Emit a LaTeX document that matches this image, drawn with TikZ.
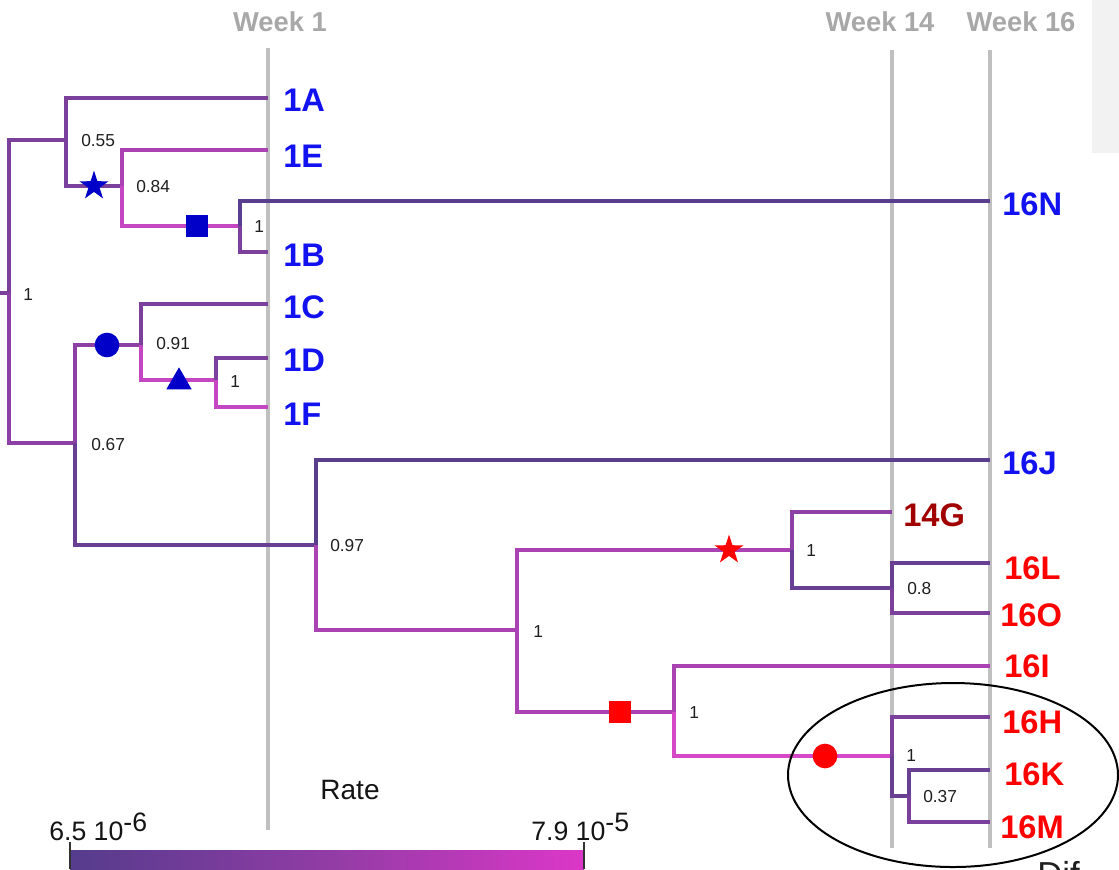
\documentclass[tikz,border=0pt]{standalone}
\usepackage{fontspec}
\setmainfont{Liberation Sans}
\usetikzlibrary{shapes.geometric}
\definecolor{lgray}{RGB}{192,192,192}
\definecolor{wkgray}{RGB}{168,168,168}
\definecolor{tipblue}{RGB}{18,18,240}
\definecolor{tipred}{RGB}{255,0,0}
\definecolor{tipdred}{RGB}{160,0,0}
\definecolor{mkblue}{RGB}{0,0,200}
\definecolor{mkred}{RGB}{255,0,0}
\definecolor{cdark}{RGB}{88,62,140}
\definecolor{cdp}{RGB}{105,63,148}
\definecolor{cpur}{RGB}{122,64,155}
\definecolor{cmid}{RGB}{140,64,165}
\definecolor{cmag}{RGB}{170,66,180}
\definecolor{cpink}{RGB}{196,70,195}
\definecolor{cbright}{RGB}{215,72,200}
\definecolor{cbl}{RGB}{85,60,140}
\definecolor{cbm}{RGB}{145,60,165}
\definecolor{cbr}{RGB}{220,55,200}
\definecolor{scan}{RGB}{242,242,242}
\tikzset{
  br/.style={line width=3pt, line join=miter, draw=#1},
  gline/.style={line width=3pt, draw=lgray},
  tip/.style={font=\fontsize{24.5}{24.5}\selectfont\bfseries, anchor=west, inner sep=0pt, text=#1},
  sup/.style={font=\fontsize{13}{13}\selectfont, anchor=west, inner sep=0pt, text=black!88},
  wk/.style={font=\fontsize{20.5}{20.5}\selectfont\bfseries, text=wkgray, inner sep=0pt},
  mstar/.style={star, star points=5, star point ratio=2.6, fill=#1, inner sep=0pt, minimum size=23pt},
  msq/.style={rectangle, fill=#1, inner sep=0pt, minimum size=17pt},
  mcirc/.style={circle, fill=#1, inner sep=0pt, minimum size=18.5pt},
  mtri/.style={regular polygon, regular polygon sides=3, fill=#1, inner sep=0pt, minimum size=22pt},
  big/.style={font=\fontsize{20}{20}\selectfont, inner sep=0pt, text=black!92},
}
\begin{document}
\begin{tikzpicture}[x=0.75pt,y=-0.75pt]
\useasboundingbox (0,0) rectangle (1119,869);
\clip (0,0) rectangle (1119,869);
% scan artefact top right
\fill[scan] (1092,0) rectangle (1119,153);
% week guide lines
\coordinate (w1t) at (268,48);  \coordinate (w1b) at (268,830);
\coordinate (w14t) at (892,50); \coordinate (w14b) at (892,848);
\coordinate (w16t) at (990,50); \coordinate (w16b) at (990,848);
\draw[gline] (w1t) -- (w1b);
\draw[gline] (w14t) -- (w14b);
\draw[gline] (w16t) -- (w16b);
\node[wk] (wk1) at (280,22) {Week 1};
\node[wk] (wk14) at (880,22) {Week 14};
\node[wk] (wk16) at (1021,22) {Week 16};
% internal nodes
\coordinate (r0) at (0,293);
\coordinate (nR) at (9,293);
\coordinate (nA) at (66,140);
\coordinate (nB) at (122,186);
\coordinate (nC) at (240,226);
\coordinate (nD) at (75,443);
\coordinate (nE) at (141,345);
\coordinate (nF) at (216,380);
\coordinate (nG) at (316,545);
\coordinate (nH) at (517,630);
\coordinate (nI) at (792,550);
\coordinate (nJ) at (892,588);
\coordinate (nK) at (674,712);
\coordinate (nL) at (892,756);
\coordinate (nM) at (909,796);
% tip ends
\coordinate (e1A) at (268,98);
\coordinate (e1E) at (268,150);
\coordinate (e16N) at (990,201);
\coordinate (e1B) at (268,252);
\coordinate (e1C) at (268,304);
\coordinate (e1D) at (268,358);
\coordinate (e1F) at (268,407);
\coordinate (e16J) at (990,460);
\coordinate (e14G) at (892,512);
\coordinate (e16L) at (990,563);
\coordinate (e16O) at (990,613);
\coordinate (e16I) at (990,666);
\coordinate (e16H) at (990,717);
\coordinate (e16K) at (990,770);
\coordinate (e16M) at (990,822);
% branches
\draw[br=cpur] (r0) -- (nR);
\draw[br=cpur] (nR) |- (nA);
\draw[br=cpur] (nA) |- (e1A);
\draw[br=cpur] (nA) |- (nB);
\draw[br=cmag] (nB) |- (e1E);
\draw[br=cpink] (nB) |- (nC);
\draw[br=cdark] (nC) |- (e16N);
\draw[br=cpur] (nC) |- (e1B);
\draw[br=cmid] (nR) |- (nD);
\draw[br=cmid] (nD) |- (nE);
\draw[br=cpur] (nE) |- (e1C);
\draw[br=cpink] (nE) |- (nF);
\draw[br=cpur] (nF) |- (e1D);
\draw[br=cpink] (nF) |- (e1F);
\draw[br=cdp] (nD) |- (nG);
\draw[br=cdark] (nG) |- (e16J);
\draw[br=cmag] (nG) |- (nH);
\draw[br=cmag] (nH) |- (nI);
\draw[br=cmid] (nI) |- (e14G);
\draw[br=cdp] (nI) |- (nJ);
\draw[br=cdp] (nJ) |- (e16L);
\draw[br=cpur] (nJ) |- (e16O);
\draw[br=cmag] (nH) |- (nK);
\draw[br=cmag] (nK) |- (e16I);
\draw[br=cbright] (nK) |- (nL);
\draw[br=cpur] (nL) |- (e16H);
\draw[br=cdp] (nL) |- (nM);
\draw[br=cdp] (nM) |- (e16K);
\draw[br=cpur] (nM) |- (e16M);
% markers
\node[mstar=mkblue] (mk1) at (94,186) {};
\node[msq=mkblue] (mk2) at (197,226) {};
\node[mcirc=mkblue] (mk3) at (107,345) {};
\node[mtri=mkblue] (mk4) at (179,382) {};
\node[mstar=mkred] (mk5) at (729,550) {};
\node[msq=mkred] (mk6) at (620,712) {};
\node[mcirc=mkred] (mk7) at (825,756) {};
% support values
\node[sup] (sR) at (23,295) {1};
\node[sup] (sA) at (81,141) {0.55};
\node[sup] (sB) at (136,187) {0.84};
\node[sup] (sC) at (254,227) {1};
\node[sup] (sD) at (91,445) {0.67};
\node[sup] (sE) at (156,344) {0.91};
\node[sup] (sF) at (230,382) {1};
\node[sup] (sG) at (330,546) {0.97};
\node[sup] (sH) at (533,632) {1};
\node[sup] (sI) at (806,551) {1};
\node[sup] (sJ) at (907,589) {0.8};
\node[sup] (sK) at (689,713) {1};
\node[sup] (sL) at (906,756) {1};
\node[sup] (sM) at (923,797) {0.37};
% tip labels
\node[tip=tipblue] (t1A) at (283,100) {1A};
\node[tip=tipblue] (t1E) at (283,156) {1E};
\node[tip=tipblue] (t16N) at (1002,204) {16N};
\node[tip=tipblue] (t1B) at (283,255) {1B};
\node[tip=tipblue] (t1C) at (283,307) {1C};
\node[tip=tipblue] (t1D) at (283,360) {1D};
\node[tip=tipblue] (t1F) at (283,414) {1F};
\node[tip=tipblue] (t16J) at (1002,463) {16J};
\node[tip=tipdred] (t14G) at (903,515) {14G};
\node[tip=tipred] (t16L) at (1004,568) {16L};
\node[tip=tipred] (t16O) at (1000,615) {16O};
\node[tip=tipred] (t16I) at (1004,666) {16I};
\node[tip=tipred] (t16H) at (1002,722) {16H};
\node[tip=tipred] (t16K) at (1004,774) {16K};
\node[tip=tipred] (t16M) at (1000,827) {16M};
% highlight ellipse
\node[draw=black, line width=1.5pt, ellipse, minimum width=247.5pt, minimum height=138pt, inner sep=0pt] (ell) at (953,775) {};
% colour bar
\node[big, font=\fontsize{21}{21}\selectfont] (rate) at (350,790) {Rate};
\shade[left color=cbl, right color=cbr, middle color=cbm] (70,850) rectangle (584,880);
\coordinate (tk1t) at (70,842); \coordinate (tk1b) at (70,869);
\coordinate (tk2t) at (584,842); \coordinate (tk2b) at (584,869);
\draw[line width=1.4pt, black!80] (tk1t) -- (tk1b);
\draw[line width=1.4pt, black!80] (tk2t) -- (tk2b);
\node[big, anchor=base west] (lo) at (49,840) {6.5 10\raisebox{6.5pt}{-6}};
\node[big, anchor=base west] (hi) at (531,840) {7.9 10\raisebox{6.5pt}{-5}};
% partial text at bottom right (cut off by the edge, as in the reference)
\node[anchor=north west, inner sep=0pt, font=\fontsize{26}{26}\selectfont, text=black!88] (dif) at (1037,861) {Dif};
\end{tikzpicture}
\end{document}
